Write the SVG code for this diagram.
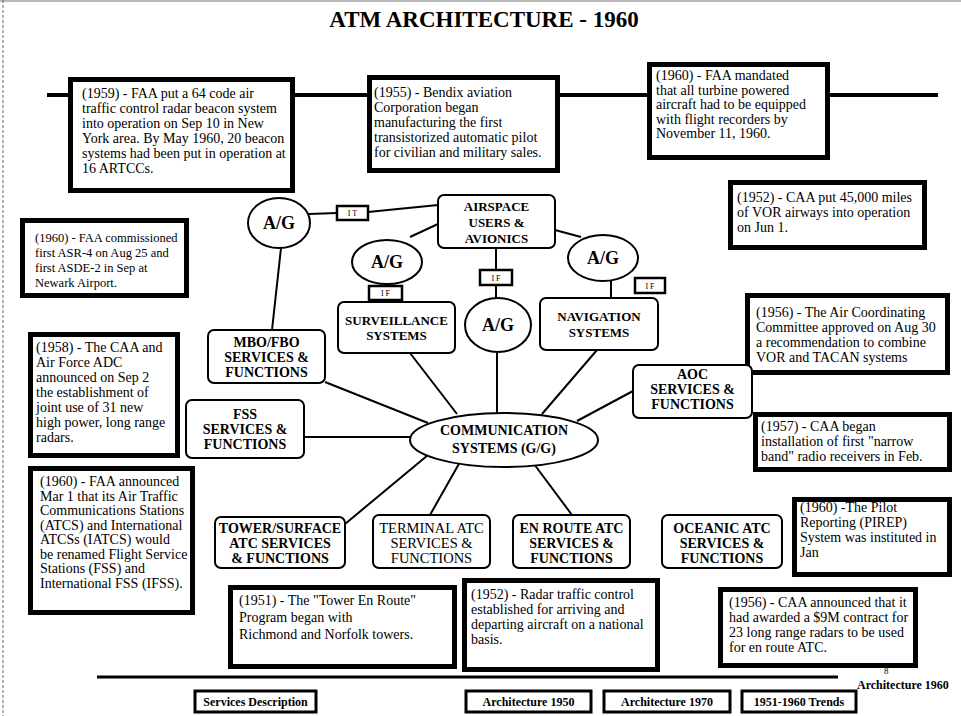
<svg xmlns="http://www.w3.org/2000/svg" width="961" height="716" viewBox="0 0 961 716">
<style>
text{font-family:"Liberation Serif","Times New Roman",serif;fill:#000}
.note{fill:#fff;stroke:#000;stroke-width:5}
.nt{font-size:14px}
.node{fill:#fff;stroke:#000;stroke-width:2}
.nl{font-size:14px;font-weight:bold;text-anchor:middle}
.nl13{font-size:13px;font-weight:bold;text-anchor:middle}
.reg{font-size:14.5px;text-anchor:middle}
.ag{font-size:18px;font-weight:bold;text-anchor:middle}
.tag{fill:#fff;stroke:#000;stroke-width:2.5}
.tt{font-size:8px;text-anchor:middle}
.conn line{stroke:#000;stroke-width:2}
.btn{fill:#fff;stroke:#000;stroke-width:3}
.bt{font-size:12px;font-weight:bold;text-anchor:middle}
</style>

<!-- page frame -->
<line x1="0" y1="1" x2="961" y2="1" stroke="#777" stroke-width="1"/>
<line x1="3" y1="0" x2="3" y2="716" stroke="#666" stroke-width="1" stroke-dasharray="3 2"/>

<text x="484" y="27" font-size="23" font-weight="bold" text-anchor="middle">ATM ARCHITECTURE - 1960</text>

<!-- timeline -->
<line x1="47" y1="95" x2="938" y2="95" stroke="#000" stroke-width="4"/>

<!-- connectors -->
<g id="connectors" class="conn">
  <line x1="309" y1="214" x2="337" y2="213"/>
  <line x1="368" y1="212" x2="438" y2="205"/>
  <line x1="438" y1="224" x2="410" y2="237"/>
  <line x1="386" y1="283" x2="386" y2="302"/>
  <line x1="496" y1="248" x2="496" y2="298"/>
  <line x1="555" y1="230" x2="581" y2="237"/>
  <line x1="611" y1="280" x2="611" y2="298"/>
  <line x1="281" y1="248" x2="272" y2="330"/>
  <line x1="325" y1="382" x2="428" y2="423"/>
  <line x1="410" y1="353" x2="457" y2="414"/>
  <line x1="497" y1="352" x2="497" y2="413"/>
  <line x1="597" y1="350" x2="542" y2="414"/>
  <line x1="633" y1="391" x2="577" y2="421"/>
  <line x1="304" y1="437" x2="410" y2="437"/>
  <line x1="345" y1="524" x2="428" y2="455"/>
  <line x1="430" y1="515" x2="460" y2="462"/>
  <line x1="572" y1="515" x2="534" y2="464"/>
</g>

<!-- notes -->
<g id="note1959a">
  <rect class="note" x="70.5" y="79.5" width="222" height="111"/>
  <text class="nt"><tspan x="82" y="98">(1959) - FAA put a 64 code air</tspan><tspan x="82" y="113">traffic control radar beacon system</tspan><tspan x="82" y="128">into operation on Sep 10 in New</tspan><tspan x="82" y="143">York area. By May 1960, 20 beacon</tspan><tspan x="82" y="158">systems had been put in operation at</tspan><tspan x="82" y="173">16 ARTCCs.</tspan></text>
</g>
<g id="note1955">
  <rect class="note" x="369.5" y="77.5" width="188" height="93"/>
  <text class="nt"><tspan x="374" y="97">(1955) - Bendix aviation</tspan><tspan x="374" y="112">Corporation began</tspan><tspan x="374" y="127">manufacturing the first</tspan><tspan x="374" y="142">transistorized automatic pilot</tspan><tspan x="374" y="157">for civilian and military sales.</tspan></text>
</g>
<g id="note1960a">
  <rect class="note" x="649.5" y="64.5" width="178" height="93"/>
  <text class="nt"><tspan x="656" y="80">(1960) - FAA mandated</tspan><tspan x="656" y="94.5">that all turbine powered</tspan><tspan x="656" y="109">aircraft had to be equipped</tspan><tspan x="656" y="123.5">with flight recorders by</tspan><tspan x="656" y="138">November 11, 1960.</tspan></text>
</g>
<g id="note1952a">
  <rect class="note" x="730.5" y="182.5" width="194" height="65"/>
  <text class="nt"><tspan x="737" y="202">(1952) - CAA put 45,000 miles</tspan><tspan x="737" y="217">of VOR airways into operation</tspan><tspan x="737" y="232">on Jun 1.</tspan></text>
</g>
<g id="note1960b">
  <rect class="note" x="22.5" y="220.5" width="164" height="75"/>
  <text font-size="12.5"><tspan x="35" y="242">(1960) - FAA commissioned</tspan><tspan x="35" y="257">first ASR-4 on Aug 25 and</tspan><tspan x="35" y="272">first ASDE-2 in Sep at</tspan><tspan x="35" y="287">Newark Airport.</tspan></text>
</g>
<g id="note1958">
  <rect class="note" x="30.5" y="334.5" width="147" height="121"/>
  <text class="nt"><tspan x="36" y="352">(1958) - The CAA and</tspan><tspan x="36" y="367">Air Force ADC</tspan><tspan x="36" y="382">announced on Sep 2</tspan><tspan x="36" y="397">the establishment of</tspan><tspan x="36" y="412">joint use of 31 new</tspan><tspan x="36" y="427">high power, long range</tspan><tspan x="36" y="442">radars.</tspan></text>
</g>
<g id="note1960c">
  <rect class="note" x="30.5" y="468.5" width="162" height="144"/>
  <text class="nt"><tspan x="40" y="486">(1960) - FAA announced</tspan><tspan x="40" y="500.5">Mar 1 that its Air Traffic</tspan><tspan x="40" y="515">Communications Stations</tspan><tspan x="40" y="529.5">(ATCS) and International</tspan><tspan x="40" y="544">ATCSs (IATCS) would</tspan><tspan x="40" y="558.5">be renamed Flight Service</tspan><tspan x="40" y="573">Stations (FSS) and</tspan><tspan x="40" y="587.5">International FSS (IFSS).</tspan></text>
</g>
<g id="note1956a">
  <rect class="note" x="747.5" y="295.5" width="200" height="77"/>
  <text class="nt"><tspan x="756" y="317">(1956) - The Air Coordinating</tspan><tspan x="756" y="332">Committee approved on Aug 30</tspan><tspan x="756" y="347">a recommendation to combine</tspan><tspan x="756" y="362">VOR and TACAN systems</tspan></text>
</g>
<g id="note1957">
  <rect class="note" x="755.5" y="414.5" width="194" height="55"/>
  <text class="nt"><tspan x="761" y="431">(1957) - CAA began</tspan><tspan x="761" y="446">installation of first "narrow</tspan><tspan x="761" y="461">band" radio receivers in Feb.</tspan></text>
</g>
<g id="note1960d">
  <rect class="note" x="794.5" y="499.5" width="155" height="75"/>
  <text class="nt"><tspan x="800" y="512">(1960) -The Pilot</tspan><tspan x="800" y="527">Reporting (PIREP)</tspan><tspan x="800" y="542">System was instituted in</tspan><tspan x="800" y="557">Jan</tspan></text>
</g>
<g id="note1951">
  <rect class="note" x="230.5" y="587.5" width="224" height="79"/>
  <text class="nt"><tspan x="239" y="605">(1951) - The "Tower En Route"</tspan><tspan x="239" y="622">Program began with</tspan><tspan x="239" y="639">Richmond and Norfolk towers.</tspan></text>
</g>
<g id="note1952b">
  <rect class="note" x="464.5" y="580.5" width="193" height="89"/>
  <text class="nt"><tspan x="471" y="599">(1952) - Radar traffic control</tspan><tspan x="471" y="614">established for arriving and</tspan><tspan x="471" y="629">departing aircraft  on a national</tspan><tspan x="471" y="644">basis.</tspan></text>
</g>
<g id="note1956b">
  <rect class="note" x="720.5" y="589.5" width="195" height="76"/>
  <text class="nt"><tspan x="729" y="607">(1956) - CAA announced that it</tspan><tspan x="729" y="622">had awarded a $9M contract for</tspan><tspan x="729" y="637">23 long range radars to be used</tspan><tspan x="729" y="652">for en route ATC.</tspan></text>
</g>

<!-- nodes -->
<g id="ag1">
  <ellipse class="node" cx="279" cy="223" rx="31" ry="25"/>
  <text class="ag" x="279" y="229">A/G</text>
</g>
<g id="it1">
  <rect class="tag" x="337" y="206" width="31" height="14"/>
  <text class="tt" x="352.5" y="216">I T</text>
</g>
<g id="airspace">
  <rect class="node" x="438" y="195" width="117" height="53" rx="6"/>
  <text class="nl13"><tspan x="496.5" y="211">AIRSPACE</tspan><tspan x="496.5" y="227">USERS &amp;</tspan><tspan x="496.5" y="243">AVIONICS</tspan></text>
</g>
<g id="ag2">
  <ellipse class="node" cx="387" cy="262" rx="35" ry="22"/>
  <text class="ag" x="387" y="268">A/G</text>
</g>
<g id="if1">
  <rect class="tag" x="369" y="286" width="33" height="14"/>
  <text class="tt" x="385.5" y="296">I F</text>
</g>
<g id="surveillance">
  <rect class="node" x="338" y="302" width="117" height="51" rx="6"/>
  <text class="nl13"><tspan x="396.5" y="325">SURVEILLANCE</tspan><tspan x="396.5" y="340">SYSTEMS</tspan></text>
</g>
<g id="if2">
  <rect class="tag" x="480" y="270" width="32" height="15"/>
  <text class="tt" x="496" y="281">I F</text>
</g>
<g id="ag3">
  <ellipse class="node" cx="498" cy="325" rx="33" ry="27"/>
  <text class="ag" x="498" y="331">A/G</text>
</g>
<g id="ag4">
  <ellipse class="node" cx="603" cy="258" rx="35" ry="23"/>
  <text class="ag" x="603" y="264">A/G</text>
</g>
<g id="if3">
  <rect class="tag" x="635" y="278" width="30" height="15"/>
  <text class="tt" x="650" y="289">I F</text>
</g>
<g id="navigation">
  <rect class="node" x="540" y="298" width="118" height="52" rx="6"/>
  <text class="nl13"><tspan x="599" y="321">NAVIGATION</tspan><tspan x="599" y="337">SYSTEMS</tspan></text>
</g>
<g id="mbo">
  <rect class="node" x="208" y="330" width="117" height="53" rx="6"/>
  <text class="nl"><tspan x="266.5" y="347">MBO/FBO</tspan><tspan x="266.5" y="362">SERVICES &amp;</tspan><tspan x="266.5" y="377">FUNCTIONS</tspan></text>
</g>
<g id="fss">
  <rect class="node" x="186" y="400" width="118" height="58" rx="6"/>
  <text class="nl"><tspan x="245" y="419">FSS</tspan><tspan x="245" y="434">SERVICES &amp;</tspan><tspan x="245" y="449">FUNCTIONS</tspan></text>
</g>
<g id="aoc">
  <rect class="node" x="633" y="365" width="119" height="53" rx="6"/>
  <text class="nl"><tspan x="692.5" y="379">AOC</tspan><tspan x="692.5" y="394">SERVICES &amp;</tspan><tspan x="692.5" y="409">FUNCTIONS</tspan></text>
</g>
<g id="comm">
  <ellipse class="node" cx="504" cy="440" rx="94" ry="27"/>
  <text class="nl"><tspan x="504" y="435">COMMUNICATION</tspan><tspan x="504" y="453">SYSTEMS (G/G)</tspan></text>
</g>
<g id="tower">
  <rect class="node" x="215" y="517" width="130" height="51" rx="6"/>
  <text class="nl"><tspan x="280" y="533">TOWER/SURFACE</tspan><tspan x="280" y="548">ATC  SERVICES</tspan><tspan x="280" y="563">&amp; FUNCTIONS</tspan></text>
</g>
<g id="terminal">
  <rect class="node" x="373" y="515" width="117" height="53" rx="6"/>
  <text class="reg"><tspan x="431.5" y="533">TERMINAL ATC</tspan><tspan x="431.5" y="548">SERVICES &amp;</tspan><tspan x="431.5" y="563">FUNCTIONS</tspan></text>
</g>
<g id="enroute">
  <rect class="node" x="513" y="515" width="117" height="53" rx="6"/>
  <text class="nl"><tspan x="571.5" y="533">EN ROUTE ATC</tspan><tspan x="571.5" y="548">SERVICES &amp;</tspan><tspan x="571.5" y="563">FUNCTIONS</tspan></text>
</g>
<g id="oceanic">
  <rect class="node" x="662" y="515" width="120" height="53" rx="6"/>
  <text class="nl"><tspan x="722" y="533">OCEANIC ATC</tspan><tspan x="722" y="548">SERVICES &amp;</tspan><tspan x="722" y="563">FUNCTIONS</tspan></text>
</g>

<!-- footer -->
<line x1="97" y1="677" x2="838" y2="677" stroke="#000" stroke-width="3"/>
<text x="857" y="689" font-size="12" font-weight="bold">Architecture 1960</text>
<text x="884" y="674" font-size="9">8</text>
<g id="btn-services">
  <rect class="btn" x="195" y="691" width="121" height="21"/>
  <text class="bt" x="255.5" y="706">Services Description</text>
</g>
<g id="btn-1950">
  <rect class="btn" x="466" y="691" width="125" height="21"/>
  <text class="bt" x="528.5" y="706">Architecture 1950</text>
</g>
<g id="btn-1970">
  <rect class="btn" x="604" y="691" width="126" height="21"/>
  <text class="bt" x="667" y="706">Architecture 1970</text>
</g>
<g id="btn-trends">
  <rect class="btn" x="742" y="691" width="114" height="21"/>
  <text class="bt" x="799" y="706">1951-1960 Trends</text>
</g>
</svg>
